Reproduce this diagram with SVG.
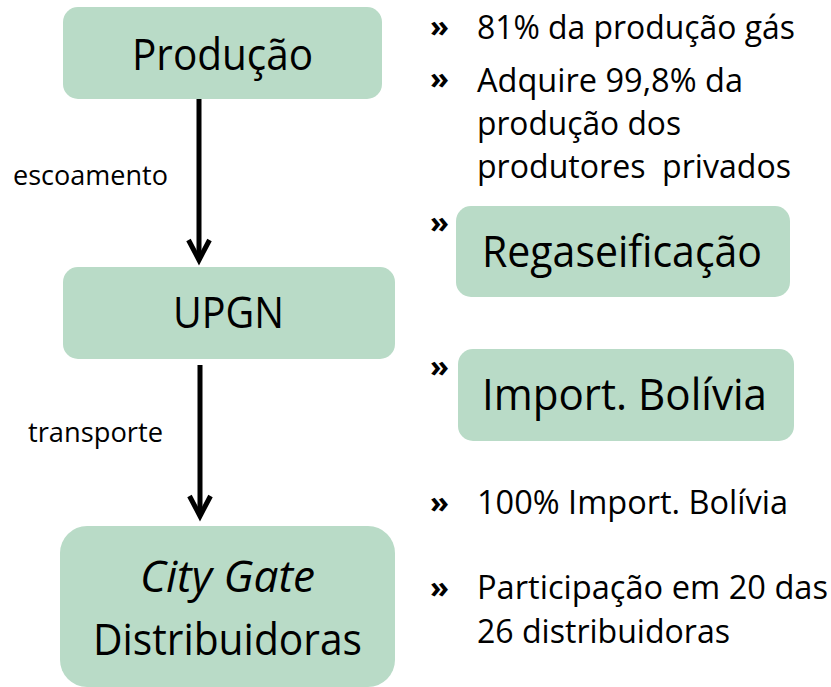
<svg xmlns="http://www.w3.org/2000/svg" width="831" height="687" viewBox="0 0 831 687">
<defs>
<style>
.box{fill:#B9DBC7;}
.bt{font-family:"Open Sans","Noto Sans",sans-serif;font-size:43px;fill:#000;text-anchor:middle;}
.tx{font-family:"Open Sans","Noto Sans",sans-serif;font-size:32px;fill:#000;}
.bu{font-family:"Open Sans","Noto Sans",sans-serif;font-size:31px;font-weight:bold;fill:#000;}
.lb{font-family:"Open Sans","Noto Sans",sans-serif;font-size:27px;fill:#000;}
.edge{stroke:#000;stroke-width:5;fill:none;}
</style>
<marker id="arr" markerUnits="userSpaceOnUse" viewBox="-26 -15 32 30" markerWidth="32" markerHeight="30" refX="0" refY="0" orient="auto" overflow="visible">
<path d="M -20 -10.5 L 0 0 L -20 10.5" fill="none" stroke="#000" stroke-width="5" stroke-linejoin="miter"/>
</marker>
</defs>
<rect width="831" height="687" fill="#fff"/>

<g id="connectors">
<line class="edge" x1="199" y1="99" x2="199" y2="260" marker-end="url(#arr)"/>
<text class="lb" x="13" y="185" textLength="155" lengthAdjust="spacingAndGlyphs">escoamento</text>
<line class="edge" x1="200" y1="365" x2="200" y2="516" marker-end="url(#arr)"/>
<text class="lb" x="28" y="442" textLength="135" lengthAdjust="spacingAndGlyphs">transporte</text>
</g>

<g id="producao">
<rect class="box" x="63" y="7" width="319" height="92" rx="15"/>
<text class="bt" x="222.5" y="70" textLength="181" lengthAdjust="spacingAndGlyphs">Produção</text>
</g>

<g id="upgn">
<rect class="box" x="63" y="267" width="332" height="92" rx="15"/>
<text class="bt" x="228.5" y="328" textLength="111" lengthAdjust="spacingAndGlyphs">UPGN</text>
</g>

<g id="citygate">
<rect class="box" x="60" y="526" width="335" height="161" rx="27"/>
<text class="bt" x="227.5" y="592" font-style="italic" textLength="175" lengthAdjust="spacingAndGlyphs">City Gate</text>
<text class="bt" x="227.5" y="655" textLength="269" lengthAdjust="spacingAndGlyphs">Distribuidoras</text>
</g>

<g id="regaseificacao">
<rect class="box" x="456" y="206" width="334" height="91" rx="15"/>
<text class="bt" x="622" y="267" textLength="280" lengthAdjust="spacingAndGlyphs">Regaseificação</text>
</g>

<g id="import-bolivia">
<rect class="box" x="458" y="349" width="336" height="92" rx="15"/>
<text class="bt" x="624.5" y="410" textLength="285" lengthAdjust="spacingAndGlyphs">Import. Bolívia</text>
</g>

<g id="bullets">
<text class="bu" x="430" y="37">»</text>
<text class="bu" x="430" y="89">»</text>
<text class="bu" x="430" y="233">»</text>
<text class="bu" x="430" y="377">»</text>
<text class="bu" x="430" y="513">»</text>
<text class="bu" x="430" y="598">»</text>
</g>

<g id="notes">
<text class="tx" x="477" y="39" textLength="318" lengthAdjust="spacingAndGlyphs">81% da produção gás</text>
<text class="tx" x="477" y="92" textLength="266" lengthAdjust="spacingAndGlyphs">Adquire 99,8% da</text>
<text class="tx" x="477" y="135" textLength="204" lengthAdjust="spacingAndGlyphs">produção dos</text>
<text class="tx" x="477" y="178" textLength="314" lengthAdjust="spacingAndGlyphs" xml:space="preserve">produtores  privados</text>
<text class="tx" x="477" y="514" textLength="311" lengthAdjust="spacingAndGlyphs">100% Import. Bolívia</text>
<text class="tx" x="477" y="599" textLength="351" lengthAdjust="spacingAndGlyphs">Participação em 20 das</text>
<text class="tx" x="477" y="643" textLength="253" lengthAdjust="spacingAndGlyphs">26 distribuidoras</text>
</g>
</svg>
